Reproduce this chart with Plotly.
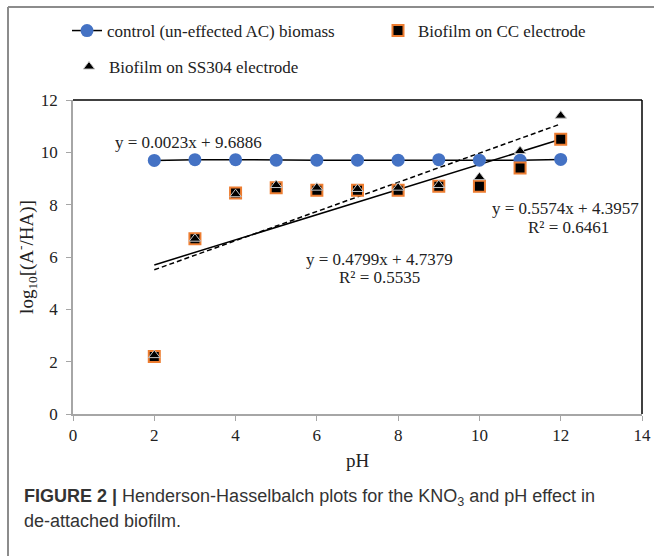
import plotly.graph_objects as go

ph = [2, 3, 4, 5, 6, 7, 8, 9, 10, 11, 12]
control = [9.69, 9.72, 9.72, 9.70, 9.70, 9.70, 9.70, 9.72, 9.70, 9.70, 9.73]
cc = [2.2, 6.7, 8.45, 8.65, 8.55, 8.55, 8.55, 8.7, 8.7, 9.4, 10.5]
ss304 = [2.25, 6.7, 8.4, 8.75, 8.65, 8.6, 8.65, 8.75, 9.05, 10.05, 11.4]

cc_fit = (0.4799, 4.7379)
ss_fit = (0.5574, 4.3957)
ctrl_fit = (0.0023, 9.6886)

names = ["control (un-effected AC) biomass", "Biofilm on CC electrode", "Biofilm on SS304 electrode"]

SERIF = "Liberation Serif"
fig = go.Figure()

fit_x = [ph[0], ph[-1]]
fig.add_trace(go.Scatter(x=fit_x, y=[cc_fit[0] * v + cc_fit[1] for v in fit_x], mode="lines",
                         line=dict(color="black", width=1.5), showlegend=False, hoverinfo="skip"))
fig.add_trace(go.Scatter(x=fit_x, y=[ss_fit[0] * v + ss_fit[1] for v in fit_x], mode="lines",
                         line=dict(color="black", width=1.5, dash="5px,3px"), showlegend=False, hoverinfo="skip"))

fig.add_trace(go.Scatter(x=ph, y=control, mode="lines+markers", name=names[0],
                         line=dict(color="black", width=1.5),
                         marker=dict(symbol="circle", size=13, color="#4472C4"), legend="legend"))
fig.add_trace(go.Scatter(x=ph, y=cc, mode="markers", name=names[1],
                         marker=dict(symbol="square", size=11, color="black",
                                     line=dict(color="#ED7D31", width=2)), legend="legend2"))
fig.add_trace(go.Scatter(x=ph, y=ss304, mode="markers", name=names[2],
                         marker=dict(symbol="triangle-up", size=10, color="black",
                                     line=dict(color="#c8c8c8", width=1)), legend="legend3"))

X0, X1, Y0, Y1 = 73, 642, 100, 414
W, H = 654, 556
def px(x):
    return (x - X0) / (X1 - X0)
def py(y):
    return (Y1 - y) / (Y1 - Y0)

axis_common = dict(showline=True, linecolor="#a6a6a6", linewidth=1.5, ticks="outside",
                   ticklen=5, tickcolor="#a6a6a6", tickwidth=1, showgrid=False, zeroline=False,
                   tickfont=dict(family=SERIF, size=17, color="#222"), dtick=2)

leg_common = dict(orientation="h", xanchor="left", yanchor="middle",
                  font=dict(family=SERIF, size=17, color="#222"), bgcolor="rgba(0,0,0,0)")

fig.update_layout(
    width=W, height=H, template="none",
    paper_bgcolor="white", plot_bgcolor="white",
    margin=dict(l=X0, r=W - X1, t=Y0, b=H - Y1, autoexpand=False),
    xaxis=dict(range=[0, 14], title=dict(text="pH", font=dict(family=SERIF, size=19, color="#222"), standoff=10),
               **axis_common),
    yaxis=dict(range=[0, 12], title=dict(text="log<sub>10</sub>[(A<sup>-</sup>/HA)]",
                                         font=dict(family=SERIF, size=19, color="#222"), standoff=2),
               ticklabelstandoff=5, **axis_common),
    legend=dict(x=px(67), y=py(31), **leg_common),
    legend2=dict(x=px(378), y=py(31), **leg_common),
    legend3=dict(x=px(69), y=py(67), **leg_common),
    showlegend=True,
)

shapes = [
    dict(type="line", xref="paper", yref="paper", x0=1, x1=1, y0=0, y1=1, line=dict(color="black", width=1.5)),
    dict(type="line", xref="paper", yref="paper", x0=0, x1=1, y0=1, y1=1, line=dict(color="black", width=1.5)),
    dict(type="line", xref="paper", yref="paper", x0=px(8), x1=px(8), y0=py(7), y1=py(H + 5),
         line=dict(color="#8c8c8c", width=2)),
    dict(type="line", xref="paper", yref="paper", x0=px(8), x1=px(W + 5), y0=py(7), y1=py(7),
         line=dict(color="#8c8c8c", width=2)),
]
fig.update_layout(shapes=shapes)

ann_font = dict(family=SERIF, size=17, color="#222")
anns = [
    dict(x=2.83, y=10.36, text="y = 0.0023x + 9.6886"),
    dict(x=12.11, y=7.87, text="y = 0.5574x + 4.3957"),
    dict(x=12.2, y=7.11, text="R² = 0.6461"),
    dict(x=7.54, y=5.92, text="y = 0.4799x + 4.7379"),
    dict(x=7.54, y=5.2, text="R² = 0.5535"),
]
for a in anns:
    fig.add_annotation(xref="x", yref="y", showarrow=False, font=ann_font, **a)

cap_font = dict(family="Liberation Sans", size=18, color="#333")
fig.add_annotation(xref="paper", yref="paper", x=px(22), y=py(497), xanchor="left", yanchor="middle",
                   showarrow=False, font=cap_font, align="left",
                   text="<b>FIGURE 2 |</b> Henderson-Hasselbalch plots for the KNO<sub>3</sub> and pH effect in")
fig.add_annotation(xref="paper", yref="paper", x=px(22), y=py(521), xanchor="left", yanchor="middle",
                   showarrow=False, font=cap_font, align="left", text="de-attached biofilm.")

fig.write_html("out.html")
